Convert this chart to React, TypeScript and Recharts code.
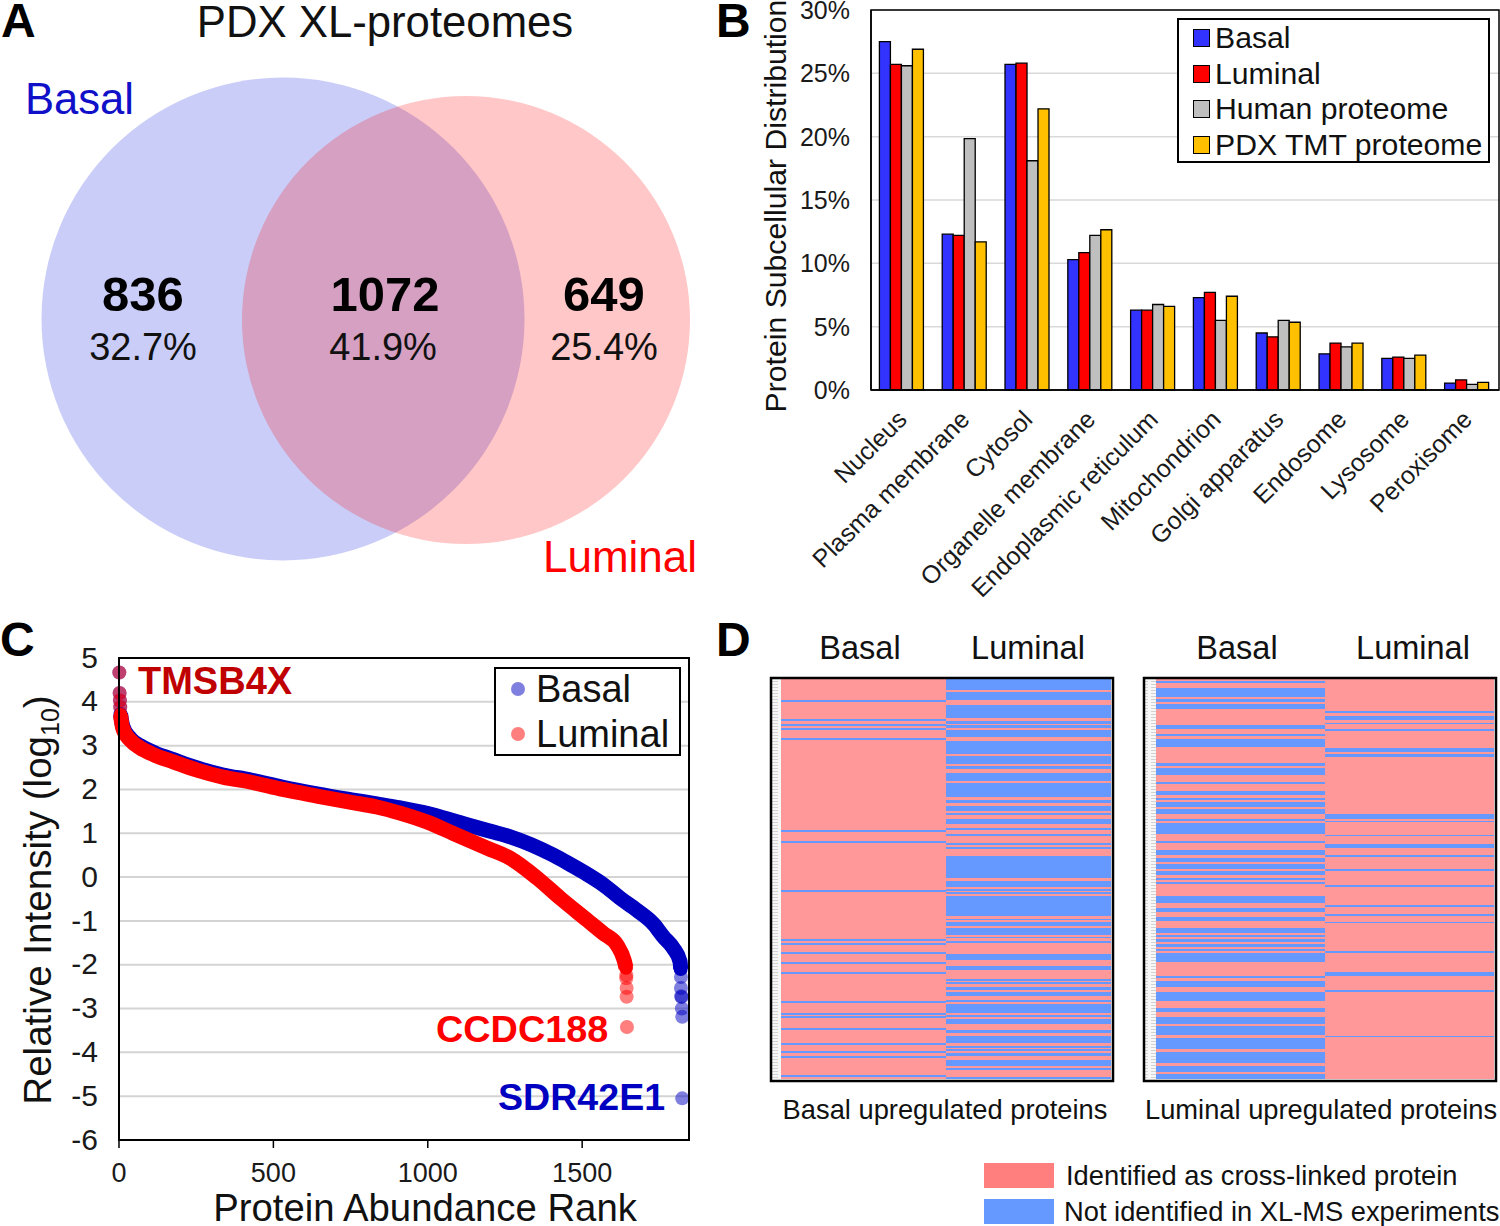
import React from "react";
import { BarChart, Bar, XAxis, YAxis, CartesianGrid, ScatterChart, Scatter, Legend } from "recharts";

const FONT = "'Liberation Sans', Arial, sans-serif";

/* Panel A */
const vennSets = ["Basal", "Luminal"];
const vennX = [283, 466];
const vennY = [319, 320];
const vennR = [241.5, 224];
const vennFill = ["rgb(60,70,230)", "rgb(255,0,0)"];
const vennAlpha = [0.27, 0.22];
const vennCounts = ["836", "1072", "649"];
const vennPercents = ["32.7%", "41.9%", "25.4%"];

/* Panel B */
const locations = ["Nucleus", "Plasma membrane", "Cytosol", "Organelle membrane", "Endoplasmic reticulum", "Mitochondrion", "Golgi apparatus", "Endosome", "Lysosome", "Peroxisome"];
const basalShare = [27.5, 12.3, 25.7, 10.3, 6.3, 7.3, 4.5, 2.85, 2.5, 0.55];
const luminalShare = [25.7, 12.2, 25.8, 10.85, 6.3, 7.7, 4.2, 3.7, 2.6, 0.8];
const humanShare = [25.6, 19.85, 18.1, 12.2, 6.75, 5.5, 5.5, 3.4, 2.5, 0.45];
const tmtShare = [26.9, 11.7, 22.2, 12.65, 6.6, 7.4, 5.35, 3.7, 2.75, 0.6];
const shareTicks = [0, 5, 10, 15, 20, 25, 30];
const shareData = locations.map((name, i) => ({ name, basal: basalShare[i], luminal: luminalShare[i], human: humanShare[i], tmt: tmtShare[i] }));

/* Panel C: [rank, log10 intensity] */
const blueHead = [[1, 4.67], [2, 4.2], [3, 4.03], [4, 3.88]];
const blueBody = [[5, 3.72], [12, 3.45], [36, 3.17], [68, 3.0], [117, 2.83], [176, 2.68], [253, 2.49], [337, 2.33], [424, 2.22], [531, 2.05], [641, 1.9], [748, 1.77], [835, 1.67], [910, 1.58], [1000, 1.45], [1100, 1.25], [1200, 1.05], [1267, 0.92], [1407, 0.5], [1461, 0.29], [1515, 0.07], [1568, -0.17], [1623, -0.48], [1678, -0.76], [1731, -1.07], [1763, -1.36], [1795, -1.62], [1817, -1.93], [1819, -2.1]];
const blueTail = [[1820, -2.28], [1820, -2.53], [1821, -2.72], [1822, -2.74], [1823, -3.0], [1824, -3.19], [1824, -5.05]];
const redHead = [[1, 4.67], [2, 4.2], [3, 4.03], [4, 3.88]];
const redBody = [[5, 3.7], [12, 3.4], [36, 3.13], [68, 2.95], [117, 2.78], [176, 2.63], [253, 2.44], [337, 2.28], [424, 2.17], [531, 2.0], [641, 1.85], [748, 1.71], [835, 1.6], [910, 1.46], [1000, 1.25], [1082, 1.0], [1192, 0.66], [1267, 0.43], [1354, -0.02], [1429, -0.48], [1516, -0.98], [1568, -1.28], [1613, -1.55], [1636, -1.9], [1642, -2.07]];
const redTail = [[1643, -2.24], [1643, -2.31], [1644, -2.53], [1644, -2.73], [1645, -3.42]];
const intensityTicks = [-6, -5, -4, -3, -2, -1, 0, 1, 2, 3, 4, 5];
const rankTicks = [0, 500, 1000, 1500];

/* Panel D: runs of rows (out of 400) not identified in XL-MS */
const ROWS = 400;
const basalUpInBasal = [[21, 23], [40, 42], [45, 47], [49, 51], [59, 61], [151, 153], [162, 164], [211, 213], [260, 262], [264, 266], [273, 275], [283, 285], [293, 295], [322, 324], [334, 336], [337, 339], [349, 351], [364, 366], [372, 374], [377, 379], [396, 398]];
const basalUpInLuminal = [[0, 11], [13, 21], [26, 39], [42, 45], [46, 49], [51, 58], [62, 75], [77, 85], [87, 90], [94, 102], [104, 118], [121, 124], [127, 132], [134, 136], [140, 145], [149, 151], [155, 157], [164, 166], [168, 170], [177, 199], [202, 208], [210, 212], [213, 215], [217, 237], [240, 241], [243, 247], [249, 256], [258, 259], [262, 264], [275, 281], [287, 291], [300, 302], [303, 305], [308, 311], [313, 317], [321, 323], [325, 334], [336, 338], [340, 345], [351, 354], [357, 364], [367, 369], [370, 372], [374, 377], [381, 387], [389, 391], [398, 400]];
const luminalUpInBasal = [[2, 4], [9, 18], [20, 23], [25, 30], [46, 50], [55, 57], [60, 68], [84, 87], [89, 96], [103, 105], [112, 116], [119, 121], [123, 128], [130, 135], [140, 142], [144, 155], [162, 164], [171, 176], [179, 183], [185, 190], [192, 196], [199, 201], [203, 205], [217, 224], [229, 233], [238, 242], [249, 254], [256, 258], [260, 263], [265, 268], [270, 272], [274, 283], [297, 299], [302, 308], [313, 322], [329, 333], [338, 345], [347, 356], [359, 370], [373, 384], [387, 393], [395, 400]];
const luminalUpInLuminal = [[32, 34], [37, 41], [44, 45], [50, 52], [69, 73], [75, 78], [135, 140], [142, 143], [156, 157], [165, 169], [176, 178], [190, 192], [206, 208], [226, 228], [235, 237], [243, 244], [272, 274], [293, 297], [311, 313], [357, 358]];
const PINK = "#ff9999";
const SKY = "#6699ff";

const inRuns = (runs: number[][], r: number) => runs.some(([a, b]) => r >= a && r < b);
const buildRows = (leftRuns: number[][], rightRuns: number[][]) =>
  Array.from({ length: ROWS }, (_, row) => {
    const l = inRuns(leftRuns, row);
    const r = inRuns(rightRuns, row);
    return { row, lPink: l ? 0 : 1, lBlue: l ? 1 : 0, rPink: r ? 0 : 1, rBlue: r ? 1 : 0 };
  });
const toPts = (a: number[][]) => a.map(([rank, value]) => ({ rank, value }));

const abs = (left: number, top: number): React.CSSProperties => ({ position: "absolute", left, top });

function Heat({ left, top, width, leftRuns, rightRuns }: any) {
  const data = buildRows(leftRuns, rightRuns);
  return (
    <div style={abs(left, top)}>
      <BarChart width={width} height={ROWS} data={data} layout="vertical" margin={{ top: 0, right: 0, bottom: 0, left: 0 }} barCategoryGap={0} barGap={0}>
        <XAxis type="number" domain={[0, 2]} hide />
        <YAxis type="category" dataKey="row" hide />
        <Bar dataKey="lPink" stackId="a" fill={PINK} barSize={1} isAnimationActive={false} shapeRendering="crispEdges" />
        <Bar dataKey="lBlue" stackId="a" fill={SKY} barSize={1} isAnimationActive={false} shapeRendering="crispEdges" />
        <Bar dataKey="rPink" stackId="a" fill={PINK} barSize={1} isAnimationActive={false} shapeRendering="crispEdges" />
        <Bar dataKey="rBlue" stackId="a" fill={SKY} barSize={1} isAnimationActive={false} shapeRendering="crispEdges" />
      </BarChart>
    </div>
  );
}

const CatTick = ({ x, y, payload }: any) => (
  <text transform={`translate(${x + 6},${y + 23}) rotate(-45)`} textAnchor="end" fontSize={25} fontFamily={FONT} fill="#1a1a1a">{payload.value}</text>
);

const ShareLegend = () => {
  const items: [string, string][] = [["Basal", "#3333ff"], ["Luminal", "#ff0000"], ["Human proteome", "#bfbfbf"], ["PDX TMT proteome", "#ffc000"]];
  return (
    <div style={{ width: 313, height: 145, boxSizing: "border-box", border: "2px solid #000", background: "#fff", position: "relative", fontFamily: FONT, fontSize: 30.2, color: "#111" }}>
      {items.map(([n, c], i) => (
        <div key={n} style={{ position: "absolute", left: 14, top: 8 + i * 35.7, height: 20, display: "flex", alignItems: "center", whiteSpace: "nowrap" }}>
          <span style={{ display: "inline-block", boxSizing: "border-box", width: 17, height: 18, background: c, border: "1.5px solid #000", marginRight: 5 }} />
          {n}
        </div>
      ))}
    </div>
  );
};

const RankLegend = () => (
  <div style={{ width: 187, height: 89, boxSizing: "border-box", border: "2px solid #000", background: "#fff", position: "relative", fontFamily: FONT, fontSize: 38, color: "#111" }}>
    {([["Basal", "#0000c0"], ["Luminal", "#ff0000"]] as [string, string][]).map(([n, c], i) => (
      <div key={n} style={{ position: "absolute", left: 15, top: 20 + i * 45, height: 0, display: "flex", alignItems: "center", whiteSpace: "nowrap" }}>
        <span style={{ display: "inline-block", width: 14, height: 14, borderRadius: 7, background: c, opacity: 0.5, marginRight: 11 }} />
        {n}
      </div>
    ))}
  </div>
);

const dot = (fill: string, opacity: number) => (p: any) => <circle cx={p.cx} cy={p.cy} r={7} fill={fill} fillOpacity={opacity} />;

export default function App() {
  const T = (p: any) => <text fontFamily={FONT} fill="#111" {...p} />;
  return (
    <div style={{ position: "absolute", left: 0, top: 0, width: 1500, height: 1226, overflow: "hidden", background: "#fff" }}>
      {/* A */}
      <div style={abs(0, 0)}>
        <ScatterChart width={760} height={600} margin={{ top: 0, right: 0, bottom: 0, left: 0 }}>
          <XAxis type="number" dataKey="x" domain={[0, 760]} hide />
          <YAxis type="number" dataKey="y" domain={[0, 600]} reversed hide />
          {vennSets.map((s, i) => (
            <Scatter key={s} name={s} data={[{ x: vennX[i], y: vennY[i], r: vennR[i] }]} isAnimationActive={false}
              shape={(p: any) => <circle cx={p.cx} cy={p.cy} r={p.payload.r} fill={vennFill[i]} fillOpacity={vennAlpha[i]} />} />
          ))}
        </ScatterChart>
      </div>

      {/* B */}
      <div style={abs(760, 0)}>
        <BarChart width={740} height={610} data={shareData} margin={{ top: 10, right: 1, bottom: 0, left: 0 }} barCategoryGap="13.4%" barGap={0}>
          <CartesianGrid horizontal vertical={false} stroke="#d9d9d9" strokeWidth={1.5} />
          <XAxis dataKey="name" height={220} interval={0} tick={<CatTick />} tickLine={false} axisLine={{ stroke: "#000", strokeWidth: 1.5 }} />
          <YAxis width={111} domain={[0, 30]} ticks={shareTicks} interval={0} tickFormatter={(v: number) => `${v}%`} tickLine={false} tickSize={0} tickMargin={21} axisLine={{ stroke: "#000", strokeWidth: 1.5 }} tick={{ fontSize: 25, fontFamily: FONT, fill: "#1a1a1a" }} />
          <Bar dataKey="basal" name="Basal" fill="#3333ff" stroke="#000" strokeWidth={1.3} isAnimationActive={false} />
          <Bar dataKey="luminal" name="Luminal" fill="#ff0000" stroke="#000" strokeWidth={1.3} isAnimationActive={false} />
          <Bar dataKey="human" name="Human proteome" fill="#bfbfbf" stroke="#000" strokeWidth={1.3} isAnimationActive={false} />
          <Bar dataKey="tmt" name="PDX TMT proteome" fill="#ffc000" stroke="#000" strokeWidth={1.3} isAnimationActive={false} />
          <Legend layout="vertical" align="center" verticalAlign="middle" content={<ShareLegend />} wrapperStyle={{ left: 417, top: 18, width: 313, height: 145 }} />
        </BarChart>
      </div>

      {/* C */}
      <div style={abs(0, 640)}>
        <ScatterChart width={700} height={586} margin={{ top: 18, right: 11, bottom: 0, left: 0 }}>
          <CartesianGrid horizontal vertical={false} stroke="#d4d4d4" strokeWidth={2} />
          <XAxis type="number" dataKey="rank" domain={[0, 1846]} ticks={rankTicks} height={86} tickSize={8} tickMargin={15} tickLine={{ stroke: "#000", strokeWidth: 1.5 }} axisLine={{ stroke: "#000", strokeWidth: 2 }} tick={{ fontSize: 27, fontFamily: FONT, fill: "#1a1a1a" }} />
          <YAxis type="number" dataKey="value" domain={[-6, 5]} ticks={intensityTicks} width={119} tickSize={0} tickMargin={21} tickLine={false} interval={0} axisLine={{ stroke: "#000", strokeWidth: 2 }} tick={{ fontSize: 30, fontFamily: FONT, fill: "#1a1a1a", dy: -1 }} />
          <Scatter name="Basal" data={toPts(blueBody)} fill="#0000c0" line={{ stroke: "#0000c0", strokeWidth: 15 }} lineJointType="monotoneX" shape={dot("#0000c0", 1)} isAnimationActive={false} />
          <Scatter name="Basal extremes" legendType="none" data={toPts(blueHead.concat(blueTail))} shape={dot("#0000c0", 0.5)} isAnimationActive={false} />
          <Scatter name="Luminal" data={toPts(redBody)} fill="#ff0000" line={{ stroke: "#ff0000", strokeWidth: 15 }} lineJointType="monotoneX" shape={dot("#ff0000", 1)} isAnimationActive={false} />
          <Scatter name="Luminal extremes" legendType="none" data={toPts(redHead.concat(redTail))} shape={dot("#ff0000", 0.5)} isAnimationActive={false} />
          <Legend layout="vertical" align="center" verticalAlign="middle" content={<RankLegend />} wrapperStyle={{ left: 494, top: 27, width: 187, height: 89 }} />
        </ScatterChart>
      </div>

      {/* D */}
      <Heat left={781} top={679} width={330} leftRuns={basalUpInBasal} rightRuns={basalUpInLuminal} />
      <Heat left={1156} top={679} width={338} leftRuns={luminalUpInBasal} rightRuns={luminalUpInLuminal} />

      {/* Annotations */}
      <svg width={1500} height={1226} style={{ position: "absolute", left: 0, top: 0, pointerEvents: "none" }}>
        <defs>
          <pattern id="genes" width="10" height="3" patternUnits="userSpaceOnUse">
            <rect width="10" height="3" fill="#f7f7f7" />
            <rect x="1" width="7" height="1" fill="#d2d2d2" />
          </pattern>
        </defs>
        <T x={1} y={37} fontSize={48} fontWeight="bold" fill="#000">A</T>
        <T x={716} y={37} fontSize={48} fontWeight="bold" fill="#000">B</T>
        <T x={0} y={656} fontSize={48} fontWeight="bold" fill="#000">C</T>
        <T x={716} y={656} fontSize={48} fontWeight="bold" fill="#000">D</T>

        <T x={385} y={37} fontSize={43.7} textAnchor="middle">PDX XL-proteomes</T>
        <T x={25} y={114} fontSize={43.6} fill="#1010c8">{vennSets[0]}</T>
        <T x={543} y={572} fontSize={44} fill="#ff0000">{vennSets[1]}</T>
        {[143, 385, 604].map((x, i) => <T key={x} x={x} y={311} fontSize={49} fontWeight="bold" textAnchor="middle" fill="#000">{vennCounts[i]}</T>)}
        {[143, 383, 604].map((x, i) => <T key={x} x={x} y={360} fontSize={38} textAnchor="middle">{vennPercents[i]}</T>)}

        <rect x={871} y={10} width={628} height={380} fill="none" stroke="#000" strokeWidth={1.5} />
        <T transform="translate(786,206) rotate(-90)" fontSize={30.2} textAnchor="middle">Protein Subcellular Distribution</T>

        <rect x={119} y={658} width={570} height={482} fill="none" stroke="#000" strokeWidth={2} />
        <T transform="translate(51,900) rotate(-90)" fontSize={38.6} textAnchor="middle">Relative Intensity (log<tspan fontSize={25} dy={8}>10</tspan><tspan dy={-8}>)</tspan></T>
        <T x={425} y={1221} fontSize={38.3} textAnchor="middle">Protein Abundance Rank</T>
        <T x={138} y={694} fontSize={38} fontWeight="bold" fill="#c00000">TMSB4X</T>
        <T x={436} y={1042} fontSize={37.8} fontWeight="bold" fill="#ff0000">CCDC188</T>
        <T x={498} y={1110} fontSize={37.6} fontWeight="bold" fill="#0000c0">SDR42E1</T>

        <rect x={771} y={679} width={10} height={400} fill="url(#genes)" />
        <rect x={1144} y={679} width={12} height={400} fill="url(#genes)" />
        <rect x={771} y={678} width={342} height={403} fill="none" stroke="#000" strokeWidth={2.5} />
        <rect x={1144} y={678} width={352} height={403} fill="none" stroke="#000" strokeWidth={2.5} />
        <T x={860} y={659} fontSize={32.5} textAnchor="middle">Basal</T>
        <T x={1028} y={659} fontSize={32.5} textAnchor="middle">Luminal</T>
        <T x={1237} y={659} fontSize={32.5} textAnchor="middle">Basal</T>
        <T x={1413} y={659} fontSize={32.5} textAnchor="middle">Luminal</T>
        <T x={945} y={1119} fontSize={27.3} textAnchor="middle">Basal upregulated proteins</T>
        <T x={1321} y={1119} fontSize={27.3} textAnchor="middle">Luminal upregulated proteins</T>
        <rect x={984} y={1163} width={70} height={25} fill="#ff7f7f" />
        <rect x={984} y={1199} width={70} height={25} fill={SKY} />
        <T x={1066} y={1185} fontSize={27.3}>Identified as cross-linked protein</T>
        <T x={1064} y={1221} fontSize={27.3}>Not identified in XL-MS experiments</T>
      </svg>
    </div>
  );
}
